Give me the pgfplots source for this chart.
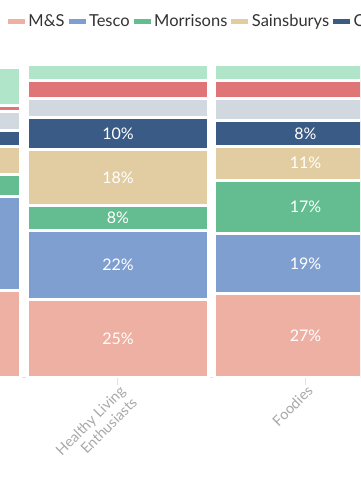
\documentclass[border=0pt]{standalone}
\usepackage{fontspec}
\setmainfont{Lato}
\usepackage{pgfplots}
\usepackage{pgfplotstable}
\pgfplotsset{compat=1.18}
\definecolor{cms}{HTML}{EEB0A2}
\definecolor{ctesco}{HTML}{809FD1}
\definecolor{cmorr}{HTML}{63BD90}
\definecolor{csains}{HTML}{E2CDA3}
\definecolor{ccoop}{HTML}{3B5B87}
\definecolor{cgray}{HTML}{D1D8DF}
\definecolor{cred}{HTML}{E07578}
\definecolor{clgreen}{HTML}{B1E5C9}
\definecolor{ctext}{HTML}{333333}
\definecolor{ctick}{HTML}{A8A8A8}
\definecolor{caxis}{HTML}{E3E3E3}

\pgfplotstableread{
x ms tesco morr sains coop gray red lgreen
0 28 30 7 9 5 6 2 12
1 25 22 8 18 10 6 6 5
2 27 19 17 11 8 7 6 5
}\shares

\pgfplotstableread{
x y lab
1 12.5 25\%
1 36 22\%
1 51 8\%
1 64 18\%
1 78 10\%
2 13.5 27\%
2 36.5 19\%
2 54.5 17\%
2 68.5 11\%
2 78 8\%
}\labels

\begin{document}
\begin{tikzpicture}
\path[use as bounding box] (0pt,0pt) rectangle (360pt,500pt);
\clip (0pt,0pt) rectangle (360pt,500pt);
\pgfplotsset{
  legimg/.style={legend image code/.code={\fill[##1,draw=none] (0pt,-2.5pt) rectangle (17pt,2.5pt);}},
  segment/.style={fill=#1, draw=white, line width=3pt, legimg},
}
\begin{axis}[
  at={(0pt,122pt)}, anchor=south west,
  scale only axis, width=360pt, height=313.5pt,
  xmin=0.3707, xmax=2.2907, ymin=0, ymax=100,
  ybar stacked, bar width=181pt,
  axis x line=bottom, axis y line=none,
  axis line style={-, draw=caxis, line width=1pt},
  xtick={0,1,2},
  xticklabels={Lifestyle, {Healthy Living\\Enthusiasts}, Foodies},
  xtick align=outside, major tick length=7pt,
  xtick style={draw=caxis, line width=1pt},
  xticklabel style={rotate=45, anchor=north east, align=right, text=ctick,
     font=\fontsize{14.5}{16.5}\selectfont, inner sep=1pt, xshift=2pt, yshift=1pt},
  ytick=\empty,
  legend columns=-1,
  legend style={draw=none, fill=none, at={(axis description cs:0.0222,1.137)}, anchor=west,
     font=\fontsize{16.5}{19}\selectfont\color{ctext}, inner sep=0pt, outer sep=0pt,
     nodes={inner sep=0pt},
     /tikz/every odd column/.append style={column sep=3.5pt},
     /tikz/every even column/.append style={column sep=4pt}},
  legend cell align=left,
]
\addplot[segment=cms] table[x=x,y=ms]{\shares};
\addplot[segment=ctesco] table[x=x,y=tesco]{\shares};
\addplot[segment=cmorr] table[x=x,y=morr]{\shares};
\addplot[segment=csains] table[x=x,y=sains]{\shares};
\addplot[segment=ccoop] table[x=x,y=coop]{\shares};
\addplot[segment=cgray, forget plot] table[x=x,y=gray]{\shares};
\addplot[segment=cred, forget plot] table[x=x,y=red]{\shares};
\addplot[segment=clgreen, forget plot] table[x=x,y=lgreen]{\shares};
\legend{M\&S, Tesco, Morrisons, Sainsburys, Co-op}
\end{axis}
\begin{axis}[
  at={(0pt,122pt)}, anchor=south west,
  scale only axis, width=360pt, height=313.5pt,
  xmin=0.3707, xmax=2.2907, ymin=0, ymax=100,
  hide axis,
]
\addplot[only marks, mark=none, nodes near coords, point meta=explicit symbolic,
  every node near coord/.append style={anchor=center, text=white, font=\fontsize{16}{18}\selectfont}]
  table[x=x,y=y,meta=lab]{\labels};
\end{axis}
\end{tikzpicture}
\end{document}
